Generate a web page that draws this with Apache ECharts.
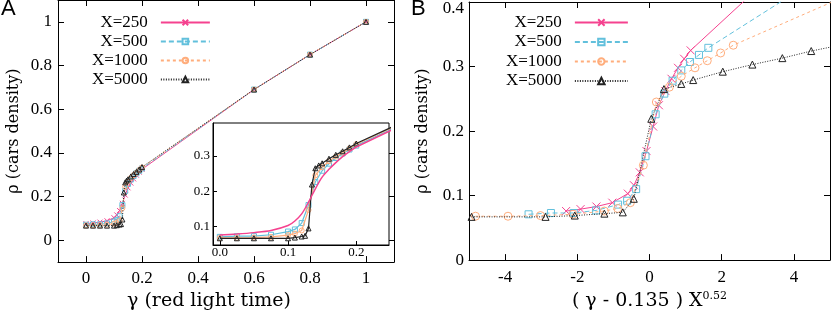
<!DOCTYPE html>
<html><head><meta charset="utf-8">
<script src="https://cdn.jsdelivr.net/npm/echarts@6/dist/echarts.min.js"></script>
<style>html,body{margin:0;padding:0;background:#fff}#c{width:831px;height:316px}</style>
</head><body><div id="c"></div>
<script>
// ---- data ----
const seriesNames = ['X=250', 'X=500', 'X=1000', 'X=5000'];
// red light time gamma for X=250, 500, 1000
const gamma = [0, 0.025, 0.05, 0.075, 0.1, 0.11, 0.12, 0.13, 0.14, 0.15, 0.16, 0.17, 0.18, 0.19, 0.2, 0.6, 0.8, 1.0];
// gamma for X=5000 (denser around the transition)
const gamma5000 = [0, 0.025, 0.05, 0.075, 0.1, 0.11, 0.12, 0.125, 0.13, 0.135, 0.14, 0.145, 0.15, 0.16, 0.17, 0.18, 0.19, 0.2, 0.6, 0.8, 1.0];
// car density rho
const rho250  = [0.076, 0.079, 0.083, 0.089, 0.103, 0.116, 0.136, 0.169, 0.207, 0.240, 0.262, 0.281, 0.298, 0.312, 0.325, 0.690, 0.850, 1.000];
const rho500  = [0.071, 0.073, 0.073, 0.077, 0.086, 0.092, 0.110, 0.161, 0.226, 0.258, 0.278, 0.294, 0.307, 0.318, 0.329, 0.690, 0.850, 1.000];
const rho1000 = [0.068, 0.068, 0.069, 0.071, 0.076, 0.080, 0.089, 0.147, 0.245, 0.268, 0.285, 0.298, 0.309, 0.321, 0.333, 0.690, 0.850, 1.000];
const rho5000 = [0.067, 0.067, 0.067, 0.067, 0.067, 0.069, 0.072, 0.074, 0.095, 0.219, 0.265, 0.273, 0.279, 0.292, 0.303, 0.313, 0.324, 0.335, 0.690, 0.850, 1.000];
// panel B abscissa (gamma - 0.135) X^0.52 (points beyond the frame estimated)
const scaled250  = [-2.31, -1.91, -1.47, -1.03, -0.60, -0.43, -0.27, -0.083, 0.10, 0.26, 0.44, 0.61, 0.79, 0.96, 1.14, 8.2, 11.7, 15.3];
const scaled500  = [-3.35, -2.73, -2.10, -1.48, -0.87, -0.62, -0.37, -0.11, 0.17, 0.41, 0.64, 0.88, 1.12, 1.37, 1.63, 11.8, 16.8, 21.9];
const scaled1000 = [-4.82, -3.92, -3.02, -2.12, -1.25, -0.88, -0.53, -0.17, 0.19, 0.55, 0.88, 1.26, 1.60, 1.97, 2.32, 16.9, 24.1, 31.4];
const scaled5000 = [-11.3, -9.2, -7.1, -4.93, -2.88, -2.07, -1.25, -0.74, -0.435, 0.05, 0.40, 0.88, 1.21, 2.03, 2.85, 3.68, 4.48, 5.45, 39, 55.7, 72.5];
// tick labels
const ticksA = [0, 0.2, 0.4, 0.6, 0.8, 1];
const ticksInsetX = [0, 0.1, 0.2];
const ticksInsetY = [0.1, 0.2, 0.3];
const ticksBX = [-4, -2, 0, 2, 4];
const ticksBY = [0, 0.1, 0.2, 0.3, 0.4];
const labelA = 'A', labelB = 'B';
const xNameA = 'γ (red light time)';
const yName = 'ρ (cars density)';
const xNameB = '( γ - 0.135 ) X{sup|0.52}';

// ---- styles ----
const SERIF = 'Liberation Serif';
const TITLE = 'DejaVu Serif';
const colors = ['#f5428f', '#62c0dc', '#ffad7c', '#222222'];
const dashes = ['solid', [5, 3], [3, 3], [1, 1.5]];
const symbols = ['path://M0,0L10,10M10,0L0,10', 'rect', 'circle', 'triangle'];
const symB = [8, 7, 8, 7];
const gammas = [gamma, gamma, gamma, gamma5000];
const rhos = [rho250, rho500, rho1000, rho5000];
const scaled = [scaled250, scaled500, scaled1000, scaled5000];
const txt = { fontFamily: SERIF, fontSize: 17, color: '#000' };
const xTitleStyle = { fontFamily: TITLE, fontSize: 19, color: '#000' };
const yTitleStyle = { fontFamily: TITLE, fontSize: 16, color: '#000' };

function vAxis(o) {
  return Object.assign({
    type: 'value', splitLine: { show: false },
    axisLine: { show: true, onZero: false, lineStyle: { color: '#000', width: 1 } },
  }, o);
}
function ticks(vals, len) {
  return { show: true, inside: true, length: len, customValues: vals, lineStyle: { color: '#000' } };
}
function labels(vals, extra) {
  return Object.assign({ show: true, customValues: vals, fontFamily: SERIF, fontSize: 17, color: '#000' }, extra || {});
}

const xAxis = [
  vAxis({ gridIndex: 0, position: 'bottom', min: -0.1, max: 1.1, axisTick: ticks(ticksA, 6), axisLabel: labels(ticksA, { margin: 8 }),
    name: xNameA, nameLocation: 'middle', nameGap: 26, nameTextStyle: Object.assign({}, xTitleStyle, { padding: [0, 34, 0, 0] }) }),
  vAxis({ gridIndex: 0, position: 'top', min: -0.1, max: 1.1, axisTick: ticks(ticksA, 6), axisLabel: { show: false } }),
  vAxis({ gridIndex: 1, position: 'bottom', min: -0.01, max: 0.248, axisTick: ticks(ticksInsetX, 4), axisLabel: labels(ticksInsetX, { fontSize: 13, margin: 1, formatter: v => v.toFixed(1) }), z: 10 }),
  vAxis({ gridIndex: 2, position: 'bottom', min: -5, max: 5, axisTick: ticks(ticksBX, 6), axisLabel: labels(ticksBX, { margin: 9 }),
    name: xNameB, nameLocation: 'middle', nameGap: 28,
    nameTextStyle: Object.assign({}, xTitleStyle, { rich: { sup: { fontFamily: TITLE, fontSize: 11, color: '#000', padding: [0, 0, 10, 0] } } }) }),
  vAxis({ gridIndex: 2, position: 'top', min: -5, max: 5, axisTick: ticks(ticksBX, 6), axisLabel: { show: false } }),
];
const yAxis = [
  vAxis({ gridIndex: 0, position: 'left', min: -0.1, max: 1.1, axisTick: ticks(ticksA, 6), axisLabel: labels(ticksA, { margin: 6 }),
    name: yName, nameLocation: 'middle', nameGap: 36, nameRotate: 90, nameTextStyle: yTitleStyle }),
  vAxis({ gridIndex: 0, position: 'right', min: -0.1, max: 1.1, axisTick: ticks(ticksA, 6), axisLabel: { show: false } }),
  vAxis({ gridIndex: 1, position: 'left', min: 0.048, max: 0.393, axisTick: ticks(ticksInsetY, 4), axisLabel: labels(ticksInsetY, { fontSize: 13, margin: 3, formatter: v => v.toFixed(1) }), z: 10 }),
  vAxis({ gridIndex: 2, position: 'left', min: 0, max: 0.4, axisTick: ticks(ticksBY, 6),
    axisLabel: labels(ticksBY, { margin: 5, formatter: v => (v >= 0.4 ? '{top|' + v + '}' : String(v)),
      rich: { top: { fontFamily: SERIF, fontSize: 17, color: '#000', padding: [13, 0, 0, 0] } } }),
    name: yName, nameLocation: 'middle', nameGap: 38, nameRotate: 90, nameTextStyle: yTitleStyle }),
  vAxis({ gridIndex: 2, position: 'right', min: 0, max: 0.4, axisTick: ticks(ticksBY, 6), axisLabel: { show: false } }),
];

const series = [];
for (let k = 0; k < 4; k++) {
  const base = {
    type: 'line', name: seriesNames[k], symbol: symbols[k], animation: false, clip: true,
    itemStyle: { color: 'rgba(0,0,0,0)', borderColor: colors[k], borderWidth: 1 },
    lineStyle: { color: colors[k], width: 1, type: dashes[k] },
    emphasis: { disabled: true },
  };
  // panel A main
  series.push(Object.assign({}, base, { xAxisIndex: 0, yAxisIndex: 0, symbolSize: 5, z: 2 + k,
    data: gammas[k].map((g, i) => [g, rhos[k][i]]) }));
  // inset
  series.push(Object.assign({}, base, { xAxisIndex: 2, yAxisIndex: 2, z: 12 + (k === 0 ? 4 : k),
    symbolSize: 5, showSymbol: k !== 0, smooth: k === 0 ? 0.3 : false,
    lineStyle: { color: colors[k], width: k === 0 ? 1.5 : 1.2, type: 'solid' },
    data: gammas[k].map((g, i) => [g, rhos[k][i]]) }));
  // panel B
  series.push(Object.assign({}, base, { xAxisIndex: 3, yAxisIndex: 3, symbolSize: symB[k], z: 2 + k,
    data: scaled[k].map((x, i) => [x, rhos[k][i]]) }));
}

const legendText = Object.assign({}, txt, { lineHeight: 19, padding: [0, 8, 0, 0] });
const option = {
  animation: false,
  backgroundColor: '#fff',
  title: [
    { text: labelA, left: 1, top: -2, padding: 0, textStyle: { fontFamily: 'Liberation Sans', fontSize: 22, fontWeight: 'normal', color: '#000' } },
    { text: labelB, left: 411, top: -2, padding: 0, textStyle: { fontFamily: 'Liberation Sans', fontSize: 22, fontWeight: 'normal', color: '#000' } },
  ],
  grid: [
    { left: 58, top: 0, width: 336, height: 263 },
    { left: 213, top: 123, width: 176, height: 122, show: true, backgroundColor: '#fff', borderColor: '#000', borderWidth: 1, z: 8 },
    { left: 469, top: 0.5, width: 361, height: 260.5 },
  ],
  legend: [
    { data: seriesNames, orient: 'vertical', align: 'right', left: 92, top: 13, padding: 0, itemGap: 0,
      itemWidth: 49, itemHeight: 7, textStyle: legendText, selectedMode: false },
    { data: seriesNames, orient: 'vertical', align: 'right', left: 506, top: 13, padding: 0, itemGap: 0.5,
      itemWidth: 53, itemHeight: 8, textStyle: legendText, selectedMode: false },
  ],
  xAxis, yAxis, series,
};
const chart = echarts.init(document.getElementById('c'), null, { renderer: 'canvas' });
chart.setOption(option);
</script></body></html>
